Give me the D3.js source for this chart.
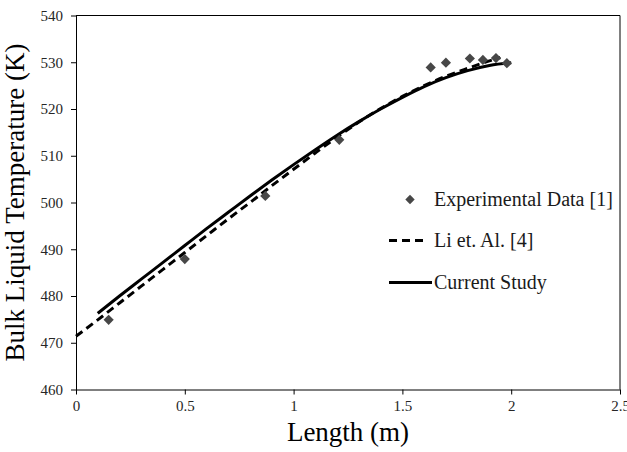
<!DOCTYPE html>
<html>
<head>
<meta charset="utf-8">
<script src="https://cdn.jsdelivr.net/npm/d3@7"></script>
<style>
  html, body { margin: 0; padding: 0; background: #fff; }
  svg { display: block; }
</style>
</head>
<body>
<svg id="chart" width="627" height="452"></svg>
<script>
// ---- Data ----
const expX = [0.15, 0.50, 0.87, 1.21, 1.63, 1.70, 1.81, 1.87, 1.93, 1.98];
const expY = [474.9, 487.9, 501.4, 513.4, 528.9, 529.9, 530.8, 530.5, 530.9, 529.8];

const liX = [0, 0.1, 0.2, 0.3, 0.4, 0.5, 0.6, 0.7, 0.8, 0.9, 1.0, 1.1, 1.2, 1.3, 1.4, 1.5, 1.6, 1.7, 1.8, 1.9, 1.95];
const liY = [471.4, 474.9, 478.5, 482.1, 485.7, 489.3, 492.9, 496.5, 500.0, 503.6, 507.1, 510.6, 514.0, 517.2, 520.1, 522.7, 525.0, 527.0, 528.7, 530.3, 531.0];

const curX = [0.1, 0.2, 0.3, 0.4, 0.5, 0.6, 0.7, 0.8, 0.9, 1.0, 1.1, 1.2, 1.3, 1.4, 1.5, 1.6, 1.7, 1.8, 1.9, 2.0];
const curY = [476.3, 480.0, 483.6, 487.2, 490.8, 494.4, 497.9, 501.4, 504.8, 508.1, 511.3, 514.4, 517.3, 520.0, 522.5, 524.8, 526.7, 528.2, 529.3, 529.9];

const xTicks = [0, 0.5, 1, 1.5, 2, 2.5];
const yTicks = [460, 470, 480, 490, 500, 510, 520, 530, 540];

const seriesNames = ["Experimental Data [1]", "Li et. Al. [4]", "Current Study"];
const xTitle = "Length (m)";
const yTitle = "Bulk Liquid Temperature (K)";

// ---- Layout ----
(function () {
const svg = d3.select("#chart");
const pL = 76, pR = 620, pT = 15.5, pB = 389.5;
const font = "'Liberation Serif', 'Times New Roman', serif";

const x = d3.scaleLinear().domain([0, 2.5]).range([pL, pR]);
const y = d3.scaleLinear().domain([460, 540]).range([pB, pT]);

// Frame (top and right)
svg.append("path")
  .attr("d", `M${pL},${pT}H${pR}V${pB}`)
  .attr("fill", "none").attr("stroke", "#000").attr("stroke-width", 1);

// Axes
const xAxis = svg.append("g")
  .attr("transform", `translate(0,${pB})`)
  .call(d3.axisBottom(x).tickValues(xTicks).tickSize(5).tickSizeOuter(0).tickPadding(6).tickFormat(d3.format("")));
const yAxis = svg.append("g")
  .attr("transform", `translate(${pL},0)`)
  .call(d3.axisLeft(y).tickValues(yTicks).tickSize(5).tickSizeOuter(0).tickPadding(8).tickFormat(d3.format("d")));

[xAxis, yAxis].forEach(g => {
  g.select(".domain").attr("stroke", "#000");
  g.selectAll(".tick line").attr("stroke", "#000");
  g.selectAll("text")
    .attr("font-family", font)
    .attr("font-size", 15)
    .attr("fill", "#262626");
});

// Lines
const line = d3.line().x(d => x(d[0])).y(d => y(d[1])).curve(d3.curveMonotoneX);

const liData = liX.map((v, i) => [v, liY[i]]);
const curData = curX.map((v, i) => [v, curY[i]]);

svg.append("path")
  .datum(curData)
  .attr("d", line)
  .attr("fill", "none").attr("stroke", "#000").attr("stroke-width", 3);

svg.append("path")
  .datum(liData)
  .attr("d", line)
  .attr("fill", "none").attr("stroke", "#000").attr("stroke-width", 3)
  .attr("stroke-dasharray", "8,5");

// Experimental points (diamonds)
const diamond = d3.symbol().type(d3.symbolSquare).size(52);
svg.append("g").selectAll("path")
  .data(expX.map((v, i) => [v, expY[i]]))
  .join("path")
  .attr("d", diamond)
  .attr("transform", d => `translate(${x(d[0])},${y(d[1])}) rotate(45)`)
  .attr("fill", "#474747");

// Legend
const lg = svg.append("g");
lg.append("path")
  .attr("d", d3.symbol().type(d3.symbolSquare).size(44))
  .attr("transform", "translate(410,199.5) rotate(45)")
  .attr("fill", "#474747");
lg.append("line").attr("x1", 389).attr("x2", 428).attr("y1", 240.5).attr("y2", 240.5)
  .attr("stroke", "#000").attr("stroke-width", 3).attr("stroke-dasharray", "8,5");
lg.append("line").attr("x1", 389).attr("x2", 432).attr("y1", 282.5).attr("y2", 282.5)
  .attr("stroke", "#000").attr("stroke-width", 3);
const lgY = [205.5, 247, 288.5];
seriesNames.forEach((n, i) => {
  lg.append("text").attr("x", 434).attr("y", lgY[i])
    .attr("font-family", font).attr("font-size", 20).attr("fill", "#1a1a1a")
    .text(n);
});

// Axis titles
svg.append("text")
  .attr("x", (pL + pR) / 2).attr("y", 441)
  .attr("text-anchor", "middle")
  .attr("font-family", font).attr("font-size", 27).attr("fill", "#000")
  .text(xTitle);
svg.append("text")
  .attr("transform", `translate(24,${(pT + pB) / 2}) rotate(-90)`)
  .attr("text-anchor", "middle")
  .attr("font-family", font).attr("font-size", 27).attr("fill", "#000")
  .text(yTitle);
})();
</script>
</body>
</html>
